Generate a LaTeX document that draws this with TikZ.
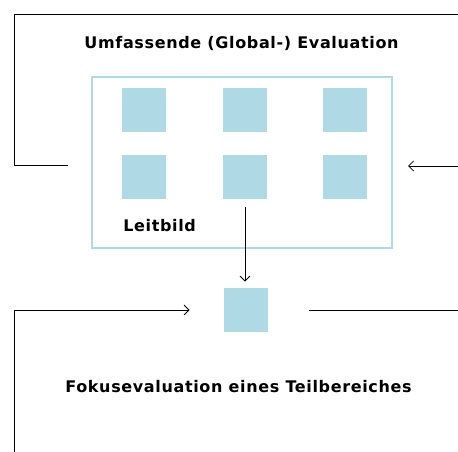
\documentclass[tikz,border=0pt]{standalone}
\usepackage{fontspec}
\setmainfont{DejaVu Sans}
\newfontfamily\schrift[LetterSpace=4]{DejaVu Sans}
\usetikzlibrary{arrows.meta}
\definecolor{hellblau}{RGB}{176,217,230}

\begin{document}
\begin{tikzpicture}[x=1pt,y=-1pt,line width=0.8pt,
  quad/.style={fill=hellblau,minimum size=44pt,inner sep=0pt},
  txt/.style={font=\schrift\bfseries\fontsize{16}{19}\selectfont,inner sep=0pt},
  pfeil/.style={-{Straight Barb[length=5pt,width=10pt]}}]

  \useasboundingbox (0,0) rectangle (458,452);
  \node [draw=hellblau,line width=2pt,minimum width=300pt,minimum height=171pt,inner sep=0pt] (rahmen) at (242,162.5) {};
  \node [quad] (q11) at (144,110) {};
  \node [quad] (q12) at (245,110) {};
  \node [quad] (q13) at (345,110) {};
  \node [quad] (q21) at (144,177) {};
  \node [quad] (q22) at (245,177) {};
  \node [quad] (q23) at (345,177) {};
  \node [quad] (fokus) at (246,310) {};
  \node [txt] (global) at (241.5,43) {Umfassende (Global-) Evaluation};
  \node [txt,anchor=west] (leitbild) at (123,226) {Leitbild};
  \node [txt] (fokustext) at (238.5,387) {Fokusevaluation eines Teilbereiches};
  \coordinate (oben) at (458,14);
  \coordinate (links) at (68,165);
  \coordinate (rechts) at (458,166);
  \coordinate (rechtsende) at (408,166);
  \coordinate (unten) at (14,452);
  \coordinate (untenrechts) at (458,310);
  \draw (links) -- ++(-54,0) |- (oben);
  \draw [pfeil] (rechts) -- (rechtsende);
  \draw [pfeil,shorten <=8pt,shorten >=6pt] (q22.south) -- (q22.south |- fokus.north);
  \draw [pfeil,shorten >=34pt] (unten) |- (fokus.west);
  \draw [shorten <=41pt] (fokus.east) -- (untenrechts);

\end{tikzpicture}
\end{document}
